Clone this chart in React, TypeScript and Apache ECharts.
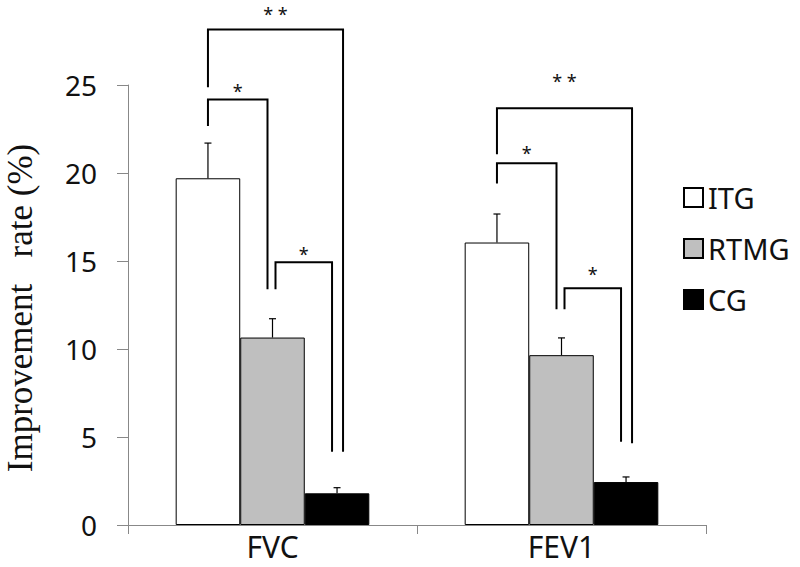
import React, { useEffect, useRef } from "react";
import * as echarts from "echarts";

// ---- data ----
const categories = ["FVC", "FEV1"];
const groupNames = ["ITG", "RTMG", "CG"];
const itgMean = [19.7, 16.05];
const itgErr = [2.0, 1.62];
const rtmgMean = [10.65, 9.65];
const rtmgErr = [1.07, 0.98];
const cgMean = [1.8, 2.44];
const cgErr = [0.32, 0.29];
const yTicks = [0, 5, 10, 15, 20, 25];
const yTitle = "Improvement   rate (%)";

// significance brackets: [category, fromGroup, toGroup, topValue, leftFootValue, rightFootValue, starValue]
const bracketRows = [
  [0, 0, 1, 24.18, 22.67, 13.39, 24.9],
  [0, 1, 2, 14.93, 13.39, 4.16, 15.63],
  [0, 0, 2, 28.15, 24.87, 4.16, 29.26],
  [1, 0, 1, 20.55, 19.41, 12.26, 21.35],
  [1, 1, 2, 13.45, 12.26, 4.73, 14.49],
  [1, 0, 2, 23.68, 21.06, 4.64, 25.47],
];
const bracketLabels = ["*", "*", "* *", "*", "*", "* *"];

const groupColors = ["#ffffff", "#bfbfbf", "#000000"];
const CAT_GAP = 0.33;

export default function App() {
  const ref = useRef<HTMLDivElement>(null);

  useEffect(() => {
    document.body.style.margin = "0";
    const chart = echarts.init(ref.current!, null, { renderer: "svg" });
    const means = [itgMean, rtmgMean, cgMean];
    const errs = [itgErr, rtmgErr, cgErr];

    const errData: number[][] = [];
    means.forEach((m, g) => {
      m.forEach((v, i) => {
        errData.push([i, v, v + errs[g][i], g]);
      });
    });

    const barSeries = groupNames.map((name, g) => ({
      name,
      type: "bar",
      data: means[g],
      barGap: "0%",
      barCategoryGap: "33%",
      itemStyle: { color: groupColors[g], borderColor: "#000", borderWidth: 1 },
    }));

    const option: any = {
      animation: false,
      backgroundColor: "#ffffff",
      grid: { left: 128, top: 85, width: 578, height: 440, containLabel: false },
      legend: {
        data: groupNames,
        orient: "vertical",
        left: 683,
        top: 182.5,
        padding: 0,
        icon: "rect",
        itemWidth: 19,
        itemHeight: 19,
        itemGap: 21,
        itemTextGap: 6,
        textStyle: { fontFamily: "Noto Sans", fontSize: 29, color: "#111", lineHeight: 30 },
      },
      xAxis: {
        type: "category",
        data: categories,
        axisLine: { lineStyle: { color: "#888", width: 1 } },
        axisTick: { show: true, length: 9, lineStyle: { color: "#888" } },
        axisLabel: { fontFamily: "Noto Sans", fontSize: 30, color: "#111", margin: 5, lineHeight: 32 },
      },
      yAxis: {
        type: "value",
        min: yTicks[0],
        max: yTicks[yTicks.length - 1],
        interval: yTicks[1] - yTicks[0],
        splitLine: { show: false },
        axisLine: { show: true, lineStyle: { color: "#888", width: 1 } },
        axisTick: { show: true, length: 11, lineStyle: { color: "#888" } },
        axisLabel: { fontFamily: "Noto Sans", fontSize: 28, color: "#111", margin: 31 },
      },
      graphic: [
        {
          type: "text",
          x: 20,
          y: 308,
          rotation: Math.PI / 2,
          style: {
            text: yTitle,
            fontFamily: "Liberation Serif",
            fontSize: 35,
            fill: "#111",
            textAlign: "center",
            textVerticalAlign: "middle",
          },
        },
      ],
      series: [
        ...barSeries,
        {
          name: "errorbars",
          type: "custom",
          data: errData,
          encode: { x: 0, y: 2 },
          clip: false,
          z: 3,
          renderItem: (params: any, api: any) => {
            const cat = api.value(0);
            const mean = api.value(1);
            const top = api.value(2);
            const slot = api.value(3);
            const band = api.size([1, 0])[0];
            const bw = (band * (1 - CAT_GAP)) / 3;
            const p0 = api.coord([cat, mean]);
            const p1 = api.coord([cat, top]);
            const x = p0[0] + (slot - 1) * bw;
            const st = { stroke: "#000", lineWidth: 1.2 };
            return {
              type: "group",
              children: [
                { type: "line", shape: { x1: x, y1: p0[1], x2: x, y2: p1[1] }, style: st },
                { type: "line", shape: { x1: x - 3.5, y1: p1[1], x2: x + 3.5, y2: p1[1] }, style: st },
              ],
            };
          },
        },
        {
          name: "brackets",
          type: "custom",
          data: bracketRows,
          encode: { x: 0, y: 6 },
          clip: false,
          z: 4,
          renderItem: (params: any, api: any) => {
            const cat = api.value(0);
            const from = api.value(1);
            const to = api.value(2);
            const top = api.value(3);
            const lf = api.value(4);
            const rf = api.value(5);
            const star = api.value(6);
            const band = api.size([1, 0])[0];
            const bw = (band * (1 - CAT_GAP)) / 3;
            const c = api.coord([cat, 0])[0];
            const outer = to - from > 1;
            const xl = c + (from - 1) * bw + (from > 0 ? 3 : 0);
            const xr = c + (to - 1) * bw + (outer ? 6 : -5);
            const yTop = api.coord([cat, top])[1];
            const yl = api.coord([cat, lf])[1];
            const yr = api.coord([cat, rf])[1];
            const ys = api.coord([cat, star])[1];
            return {
              type: "group",
              children: [
                {
                  type: "polyline",
                  shape: { points: [[xl, yl], [xl, yTop], [xr, yTop], [xr, yr]] },
                  style: { stroke: "#000", lineWidth: 2, fill: null, lineJoin: "miter" },
                },
                {
                  type: "text",
                  x: (xl + xr) / 2,
                  y: ys + 4,
                  style: {
                    text: bracketLabels[params.dataIndex],
                    fontFamily: "Noto Sans",
                    fontSize: 18,
                    fill: "#111",
                    textAlign: "center",
                    textVerticalAlign: "middle",
                  },
                },
              ],
            };
          },
        },
      ],
    };

    chart.setOption(option);
    return () => chart.dispose();
  }, []);

  return <div ref={ref} style={{ width: 800, height: 567 }} />;
}
